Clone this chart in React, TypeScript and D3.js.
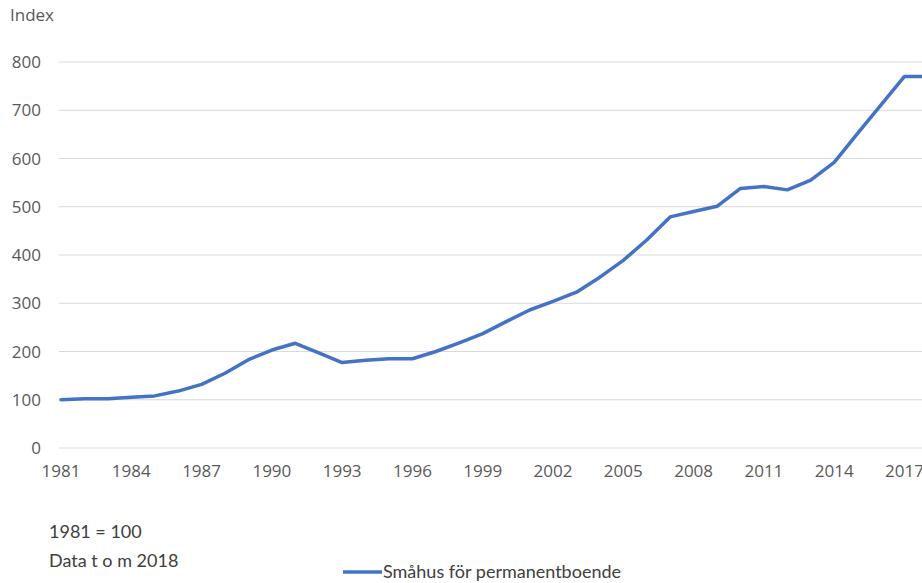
import React from "react";
import * as d3 from "d3";

// Prisindex för småhus, 1981 = 100
const years: number[] = [
  1981, 1982, 1983, 1984, 1985, 1986, 1987, 1988, 1989, 1990,
  1991, 1992, 1993, 1994, 1995, 1996, 1997, 1998, 1999, 2000,
  2001, 2002, 2003, 2004, 2005, 2006, 2007, 2008, 2009, 2010,
  2011, 2012, 2013, 2014, 2015, 2016, 2017, 2018,
];
const smahus: number[] = [
  100, 102, 102, 105, 108, 118, 132, 155, 183, 203,
  217, 197, 177, 182, 185, 185, 200, 218, 237, 262,
  286, 304, 323, 354, 389, 431, 479, 490, 501, 538,
  542, 535, 555, 592, 652, 711, 770, 770,
];
const yTicks: number[] = [0, 100, 200, 300, 400, 500, 600, 700, 800];
const xTickYears: number[] = [1981, 1984, 1987, 1990, 1993, 1996, 1999, 2002, 2005, 2008, 2011, 2014, 2017];
const seriesName = "Småhus för permanentboende";
const notes: string[] = ["1981 = 100", "Data t o m 2018"];

const W = 922;
const H = 583;
const FONT = "'Open Sans', 'Segoe UI', sans-serif";
const NOTE_FONT = "Lato, 'Open Sans', sans-serif";

export default function App() {
  const x = d3.scaleLinear().domain([1981, 2018]).range([61, 61 + 37 * 23.43]);
  const y = d3.scaleLinear().domain([0, 800]).range([448, 62]);
  const line = d3
    .line<number>()
    .x((_, i) => x(years[i]))
    .y((d) => y(d));

  return (
    <div style={{ position: "fixed", left: 0, top: 0, background: "#fff" }}>
      <svg width={W} height={H} style={{ display: "block" }}>
        <rect width={W} height={H} fill="#fff" />
        <text x={10} y={21} fontFamily={FONT} fontSize={17} fill="#595959">
          Index
        </text>
        {yTicks.map((t) => (
          <g key={t}>
            <line x1={59} x2={W} y1={y(t)} y2={y(t)} stroke="#d9d9d9" strokeWidth={1} />
            <text
              x={41}
              y={y(t)}
              dy="0.36em"
              textAnchor="end"
              fontFamily={FONT}
              fontSize={17}
              fill="#595959"
            >
              {t}
            </text>
          </g>
        ))}
        {xTickYears.map((yr) => (
          <text
            key={yr}
            x={x(yr)}
            y={477}
            textAnchor="middle"
            fontFamily={FONT}
            fontSize={17}
            fill="#595959"
          >
            {yr}
          </text>
        ))}
        <path
          d={line(smahus) ?? ""}
          fill="none"
          stroke="#4472c4"
          strokeWidth={3.5}
          strokeLinejoin="round"
          strokeLinecap="round"
        />
        {notes.map((n, i) => (
          <text
            key={n}
            x={49}
            y={538 + i * 29}
            fontFamily={NOTE_FONT}
            fontSize={18}
            fill="#404040"
          >
            {n}
          </text>
        ))}
        <line x1={343} x2={382} y1={572} y2={572} stroke="#4472c4" strokeWidth={3.5} />
        <text x={383} y={578} fontFamily={NOTE_FONT} fontSize={18} fill="#404040">
          {seriesName}
        </text>
      </svg>
    </div>
  );
}
